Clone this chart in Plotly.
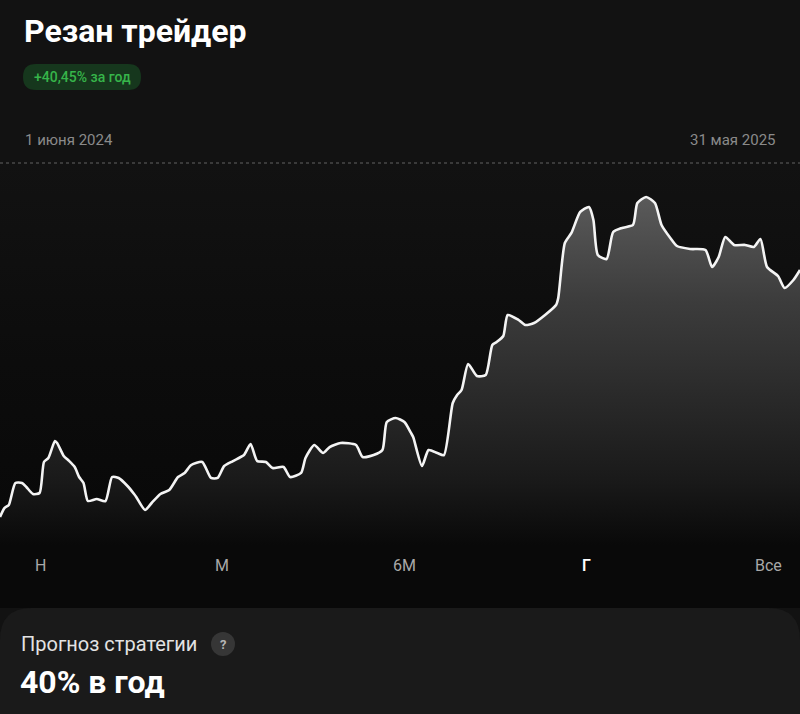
import datetime as dt
import plotly.graph_objects as go

# ---- data ----
start_date = "2024-06-01"
end_date = "2025-05-31"
day_offsets = [0, 2, 4, 7, 10, 12, 15, 18, 20, 22, 25, 26, 29, 31, 34, 36, 38, 40, 44, 48,
               51, 54, 58, 61, 62, 66, 69, 73, 77, 81, 84, 87, 92, 96, 99, 102, 106, 111, 114, 117,
               121, 124, 129, 132, 137, 139, 143, 147, 150, 155, 162, 165, 170, 174, 176, 180, 184, 187, 188, 192,
               195, 199, 202, 206, 208, 210, 213, 217, 221, 224, 226, 229, 231, 236, 239, 243, 248, 253, 254, 257,
               260, 264, 268, 270, 272, 276, 279, 283, 288, 290, 294, 298, 301, 305, 308, 314, 321, 324, 327, 330,
               334, 339, 343, 346, 349, 354, 357, 361, 364]
values = [100.00, 101.47, 101.97, 105.57, 105.57, 104.91, 103.77, 103.93, 109.01, 109.66,
          112.45, 112.12, 109.99, 109.33, 108.19, 106.55, 105.57, 102.62, 102.95, 102.62,
          106.55, 106.39, 105.08, 103.77, 103.28, 101.15, 102.29, 103.77, 104.42, 106.55,
          107.21, 108.52, 109.01, 106.39, 106.39, 108.35, 109.17, 110.15, 111.96, 109.17,
          109.01, 108.02, 108.19, 106.55, 107.21, 109.66, 111.79, 110.48, 111.46, 112.12,
          111.79, 109.83, 110.15, 110.97, 115.56, 116.21, 115.56, 113.76, 113.10, 108.35,
          110.97, 110.48, 110.15, 118.67, 119.98, 120.80, 125.06, 123.09, 123.26, 128.17,
          128.66, 129.64, 133.08, 132.26, 131.44, 131.77, 133.08, 134.72, 135.87, 144.87,
          146.51, 149.95, 150.77, 148.64, 142.91, 142.25, 146.67, 147.33, 147.82, 151.42,
          152.41, 151.42, 147.82, 145.69, 144.38, 143.89, 143.73, 140.94, 142.58, 145.86,
          144.55, 144.55, 144.22, 145.53, 140.94, 139.47, 137.50, 138.81, 140.45]
title_text = "Резан трейдер"
badge_text = "+40,45% за год"
start_label = "1 июня 2024"
end_label = "31 мая 2025"
period_tabs = ["Н", "М", "6М", "Г", "Все"]
active_tab = "Г"
forecast_label = "Прогноз стратегии"
forecast_value = "40% в год"

# ---- build ----
d0 = dt.date.fromisoformat(start_date)
dates = [d0 + dt.timedelta(days=d) for d in day_offsets]

W, H = 800, 714
PLOT_TOP, PLOT_BOT = 163, 608
Y_RANGE = [85.10, 157.97]
BG = "#121212"


def py(ypx):
    return (PLOT_BOT - ypx) / (PLOT_BOT - PLOT_TOP)


def pxx(xpx):
    return xpx / W


fig = go.Figure()
# background vertical shading of the chart zone (full axis extent)
fig.add_trace(go.Scatter(
    x=[start_date, end_date, end_date, start_date], y=[Y_RANGE[0], Y_RANGE[0], Y_RANGE[1], Y_RANGE[1]],
    mode="none", fill="toself",
    fillgradient=dict(type="vertical", start=Y_RANGE[0], stop=Y_RANGE[1],
                      colorscale=[[0, "#070707"], [0.55, "#0c0c0c"], [1, "#121212"]]),
    hoverinfo="skip",
))
fig.add_trace(go.Scatter(
    x=dates, y=values, mode="lines",
    line=dict(color="#f4f4f4", width=2.6, shape="spline", smoothing=0.6),
    fill="tozeroy",
    fillgradient=dict(type="vertical", start=95.4, stop=152.4,
                      colorscale=[[0, "#090909"], [0.19, "#1a1a1a"], [0.7, "#3c3c3c"], [1, "#5a5a5a"]]),
    hoverinfo="skip",
))

shapes = []
# dotted top line
shapes.append(dict(type="line", xref="paper", yref="paper", x0=0, x1=1, y0=1, y1=1,
                   line=dict(color="#626262", width=1.2, dash="dot"), layer="above"))


def rounded_rect(x0, y0, x1, y1, r):
    # pixel coordinates -> paper path
    X0, X1 = pxx(x0), pxx(x1)
    Y0, Y1 = py(y0), py(y1)
    rx = r / W
    ry = r / (PLOT_BOT - PLOT_TOP)
    return (f"M {X0 + rx},{Y0} L {X1 - rx},{Y0} Q {X1},{Y0} {X1},{Y0 - ry} "
            f"L {X1},{Y1 + ry} Q {X1},{Y1} {X1 - rx},{Y1} L {X0 + rx},{Y1} "
            f"Q {X0},{Y1} {X0},{Y1 + ry} L {X0},{Y0 - ry} Q {X0},{Y0} {X0 + rx},{Y0} Z")


# badge
shapes.append(dict(type="path", xref="paper", yref="paper", path=rounded_rect(23, 64, 141, 90, 13),
                   fillcolor="#16371d", line=dict(width=0)))
# bottom card
shapes.append(dict(type="path", xref="paper", yref="paper", path=rounded_rect(0, 608, 800, 760, 32),
                   fillcolor="#1a1a1a", line=dict(width=0), layer="above"))
# question circle
shapes.append(dict(type="circle", xref="paper", yref="paper",
                   x0=pxx(211), x1=pxx(235), y0=py(656), y1=py(632),
                   fillcolor="#363636", line=dict(width=0), layer="above"))

ann = []
FONT = "Roboto"
ann.append(dict(text=f"<b>{title_text}</b>", x=pxx(22), y=py(31), xanchor="left", yanchor="middle",
                font=dict(family=FONT, size=32, color="#ffffff")))
ann.append(dict(text=badge_text, x=pxx(82), y=py(77), xanchor="center", yanchor="middle",
                font=dict(family=FONT, size=14, color="#36b54a", weight=500)))
ann.append(dict(text=start_label, x=pxx(23), y=py(140), xanchor="left", yanchor="middle",
                font=dict(family=FONT, size=15, color="#8a8a8a")))
ann.append(dict(text=end_label, x=pxx(778), y=py(140), xanchor="right", yanchor="middle",
                font=dict(family=FONT, size=15, color="#8a8a8a")))
tab_x = [40, 222, 404, 586, 768]
for t, x in zip(period_tabs, tab_x):
    active = t == active_tab
    ann.append(dict(text=t, x=pxx(x), y=py(565),
                    xanchor="center", yanchor="middle",
                    font=dict(family=FONT, size=16, color="#ffffff" if active else "#a8a8a8",
                              weight=600 if active else 400)))
ann.append(dict(text=forecast_label, x=pxx(19), y=py(644), xanchor="left", yanchor="middle",
                font=dict(family=FONT, size=20, color="#e3e3e3")))
ann.append(dict(text="<b>?</b>", x=pxx(223), y=py(644), xanchor="center", yanchor="middle",
                font=dict(family=FONT, size=13, color="#b5b5b5")))
ann.append(dict(text=f"<b>{forecast_value}</b>", x=pxx(18), y=py(682), xanchor="left", yanchor="middle",
                font=dict(family=FONT, size=32, color="#ffffff")))
for a in ann:
    a.update(xref="paper", yref="paper", showarrow=False)

fig.update_layout(
    width=W, height=H,
    margin=dict(l=0, r=0, t=PLOT_TOP, b=H - PLOT_BOT, pad=0),
    paper_bgcolor=BG, plot_bgcolor=BG,
    showlegend=False,
    xaxis=dict(visible=False, range=[start_date, end_date], fixedrange=True),
    yaxis=dict(visible=False, range=Y_RANGE, fixedrange=True),
    shapes=shapes, annotations=ann,
    hovermode=False,
)
fig.write_html("out.html", config={"displayModeBar": False},
               post_script="document.body.style.margin='0';document.body.style.overflow='hidden';")
